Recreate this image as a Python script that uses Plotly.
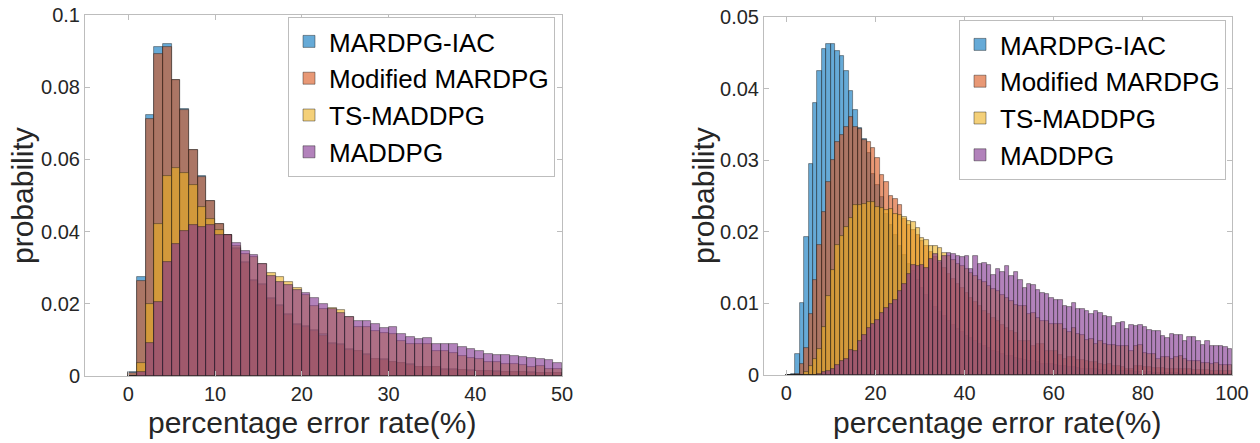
import plotly.graph_objects as go

# series names, drawn in this order (MATLAB default colour order)
names = ["MARDPG-IAC", "Modified MARDPG", "TS-MADDPG", "MADDPG"]
colors = ["rgba(0,114,189,0.6)", "rgba(217,83,25,0.6)",
          "rgba(237,177,32,0.6)", "rgba(126,47,142,0.6)"]

# ---- left panel: probability per 1% bin, bins 0..49 ----
left_edges = list(range(0, 50))
left_iac = [0.001, 0.0275, 0.0722, 0.091, 0.092, 0.082, 0.074, 0.0625, 0.0553, 0.0484,
            0.042, 0.039, 0.0354, 0.0315, 0.0266, 0.0255, 0.0215, 0.0197, 0.0171, 0.0144,
            0.0139, 0.0127, 0.0115, 0.0092, 0.0088, 0.0075, 0.007, 0.006, 0.0048, 0.0047,
            0.004, 0.0037, 0.0033, 0.0026, 0.0025, 0.0026, 0.0019, 0.0019, 0.0017, 0.0016,
            0.0014, 0.0014, 0.0013, 0.0012, 0.0011, 0.0011, 0.001, 0.0009, 0.0008, 0.0008]
left_mod = [0.0008, 0.0264, 0.0711, 0.0893, 0.0912, 0.082, 0.0738, 0.0625, 0.055, 0.0484,
            0.042, 0.039, 0.0352, 0.0312, 0.0264, 0.0252, 0.0212, 0.0194, 0.0168, 0.0142,
            0.0136, 0.0124, 0.0112, 0.009, 0.0085, 0.0073, 0.0068, 0.0058, 0.0046, 0.0045,
            0.0038, 0.0035, 0.0031, 0.0025, 0.0024, 0.0024, 0.0018, 0.0018, 0.0016, 0.0015,
            0.0013, 0.0013, 0.0012, 0.0011, 0.001, 0.001, 0.0009, 0.0009, 0.0007, 0.0007]
left_ts = [0.0, 0.0037, 0.020, 0.042, 0.0553, 0.0577, 0.0563, 0.053, 0.0467, 0.0435,
           0.0404, 0.039, 0.036, 0.0337, 0.0329, 0.0311, 0.0286, 0.0275, 0.026, 0.0243,
           0.0224, 0.0195, 0.0186, 0.0187, 0.0182, 0.0164, 0.0137, 0.0137, 0.0125, 0.0118,
           0.0115, 0.0098, 0.0088, 0.009, 0.0088, 0.007, 0.0068, 0.0063, 0.0056, 0.0049,
           0.0047, 0.004, 0.004, 0.0034, 0.0033, 0.003, 0.0025, 0.0027, 0.002, 0.0019]
left_madd = [0.0, 0.001, 0.0092, 0.0205, 0.0315, 0.0365, 0.0403, 0.0418, 0.0412, 0.0418,
             0.039, 0.039, 0.0368, 0.0345, 0.0334, 0.031, 0.0277, 0.0261, 0.0252, 0.0238,
             0.023, 0.0215, 0.02, 0.0186, 0.0175, 0.0164, 0.0151, 0.0152, 0.0143, 0.0132,
             0.0137, 0.0115, 0.0109, 0.0103, 0.0106, 0.0089, 0.009, 0.0088, 0.0081, 0.0074,
             0.007, 0.0061, 0.0057, 0.0057, 0.0055, 0.0054, 0.0049, 0.0046, 0.0044, 0.0035]

# ---- right panel: bins 0..99 ----
right_edges = list(range(0, 100))
right_iac = [0.0, 0.0002, 0.003, 0.010, 0.0193, 0.0295, 0.038, 0.0424, 0.0455, 0.0462,
             0.0462, 0.0452, 0.0446, 0.0425, 0.0397, 0.037, 0.0345, 0.0329, 0.031, 0.0281,
             0.0266, 0.0248, 0.0225, 0.021, 0.0195, 0.018, 0.0168, 0.0155, 0.0145, 0.0132,
             0.0122, 0.0112, 0.0103, 0.0095, 0.0088, 0.0082, 0.0075, 0.007, 0.0064, 0.006,
             0.0055, 0.0051, 0.0047, 0.0044, 0.004, 0.0038, 0.0034, 0.0032, 0.0029, 0.0027,
             0.0026, 0.0024, 0.0023, 0.0021, 0.002, 0.0019, 0.0018, 0.0016, 0.0015, 0.0015,
             0.0014, 0.0013, 0.0012, 0.0011, 0.0011, 0.001, 0.0009, 0.0009, 0.0008, 0.0008,
             0.0007, 0.0007, 0.0006, 0.0006, 0.0006, 0.0005, 0.0005, 0.0005, 0.0004, 0.0004,
             0.0004, 0.0004, 0.0003, 0.0003, 0.0003, 0.0003, 0.0003, 0.0003, 0.0002, 0.0002,
             0.0002, 0.0002, 0.0002, 0.0002, 0.0002, 0.0002, 0.0002, 0.0002, 0.0002, 0.0002]
right_mod = [0.0, 0.0, 0.0002, 0.0016, 0.0038, 0.0085, 0.0132, 0.0181, 0.0228, 0.027,
             0.030, 0.0325, 0.0335, 0.0347, 0.036, 0.0346, 0.0343, 0.0328, 0.0326, 0.0317,
             0.0303, 0.0279, 0.027, 0.025, 0.0246, 0.0238, 0.0218, 0.021, 0.0203, 0.0195,
             0.0187, 0.018, 0.0172, 0.0165, 0.0157, 0.0149, 0.0141, 0.0134, 0.0127, 0.0121,
             0.0114, 0.0108, 0.0102, 0.0096, 0.009, 0.0085, 0.008, 0.0075, 0.007, 0.0066,
             0.0062, 0.0058, 0.0048, 0.0048, 0.0047, 0.0041, 0.0043, 0.0044, 0.0033, 0.0034,
             0.0033, 0.0028, 0.0023, 0.0025, 0.0025, 0.0021, 0.0021, 0.002, 0.0018, 0.0018,
             0.0016, 0.0014, 0.0015, 0.0013, 0.0013, 0.0011, 0.0009, 0.0008, 0.0012, 0.0012,
             0.0011, 0.0011, 0.001, 0.001, 0.001, 0.0009, 0.0009, 0.0009, 0.0008, 0.0008,
             0.0008, 0.0007, 0.0007, 0.0007, 0.0007, 0.0006, 0.0006, 0.0006, 0.0006, 0.0005]
right_ts = [0.0, 0.0, 0.0, 0.0, 0.0004, 0.0012, 0.0023, 0.0036, 0.0067, 0.011,
            0.0146, 0.0181, 0.0194, 0.0207, 0.0219, 0.0237, 0.0237, 0.0239, 0.0241, 0.0241,
            0.0235, 0.0233, 0.023, 0.0232, 0.0225, 0.0224, 0.022, 0.0215, 0.0213, 0.0205,
            0.0191, 0.0189, 0.018, 0.018, 0.0177, 0.0171, 0.0166, 0.016, 0.0155, 0.0152,
            0.0148, 0.0142, 0.0138, 0.0133, 0.013, 0.0125, 0.012, 0.0117, 0.0112, 0.0108,
            0.0103, 0.0098, 0.0097, 0.0096, 0.0085, 0.0086, 0.0079, 0.0075, 0.0075, 0.0071,
            0.0071, 0.0071, 0.0064, 0.006, 0.0065, 0.0057, 0.0056, 0.0049, 0.005, 0.0043,
            0.0047, 0.0044, 0.0042, 0.0042, 0.0041, 0.0041, 0.0041, 0.0034, 0.0041, 0.0042,
            0.0031, 0.003, 0.003, 0.0023, 0.0025, 0.0025, 0.0022, 0.0025, 0.0027, 0.0022,
            0.0019, 0.002, 0.002, 0.0017, 0.0017, 0.0016, 0.0017, 0.0014, 0.0014, 0.0014]
right_madd = [0.0, 0.0, 0.0, 0.0, 0.0, 0.0, 0.0, 0.0002, 0.0004, 0.0006,
              0.0008, 0.0014, 0.0019, 0.0022, 0.0035, 0.0033, 0.0048, 0.0056, 0.0065, 0.0071,
              0.0077, 0.0086, 0.0093, 0.0099, 0.0105, 0.0118, 0.0127, 0.0141, 0.0154, 0.0152,
              0.0153, 0.015, 0.0162, 0.0169, 0.0159, 0.0166, 0.0171, 0.0169, 0.0166, 0.0165,
              0.0166, 0.0148, 0.0166, 0.0155, 0.0156, 0.0153, 0.0139, 0.0148, 0.0144, 0.0152,
              0.0138, 0.0144, 0.0133, 0.0121, 0.0127, 0.0126, 0.0119, 0.0114, 0.0113, 0.0107,
              0.0105, 0.0105, 0.0096, 0.0095, 0.01, 0.0092, 0.0092, 0.0089, 0.0085, 0.0089,
              0.0086, 0.0082, 0.0081, 0.0069, 0.0072, 0.0074, 0.0064, 0.007, 0.0069, 0.007,
              0.0067, 0.0063, 0.0062, 0.0062, 0.0055, 0.0051, 0.0057, 0.0056, 0.0056, 0.0047,
              0.0053, 0.0053, 0.0048, 0.0042, 0.0047, 0.0041, 0.004, 0.004, 0.0039, 0.0037]

left_series = [left_iac, left_mod, left_ts, left_madd]
right_series = [right_iac, right_mod, right_ts, right_madd]

FONT = "Liberation Sans, Arial, Helvetica, sans-serif"
W, H = 1260, 443
edge = dict(color="rgba(30,30,30,0.55)", width=0.8)

fig = go.Figure()

for name, col, vals in zip(names, colors, left_series):
    fig.add_trace(go.Bar(x=[e + 0.5 for e in left_edges], y=vals, width=1,
                         name=name, marker=dict(color=col, line=edge),
                         xaxis="x", yaxis="y", legend="legend"))

for name, col, vals in zip(names, colors, right_series):
    fig.add_trace(go.Bar(x=[e + 0.5 for e in right_edges], y=vals, width=1,
                         name=name, marker=dict(color=col, line=edge),
                         xaxis="x2", yaxis="y2", legend="legend2"))

axis_style = dict(showline=True, linecolor="#bdbdbd", linewidth=1, mirror="ticks",
                  ticks="inside", ticklen=5, tickcolor="#bdbdbd", showgrid=False,
                  zeroline=False, automargin=False,
                  tickfont=dict(family=FONT, size=20, color="#262626"))

legend_style = dict(bgcolor="white", bordercolor="#bdbdbd", borderwidth=1,
                    font=dict(family=FONT, size=26, color="black"),
                    xref="container", yref="container",
                    xanchor="left", yanchor="top", tracegroupgap=0)

# axis titles as annotations so they sit exactly where the reference has them
title_font = dict(family=FONT, size=30, color="#262626")
titles = [
    dict(text="percentage error rate(%)", x=312 / W, y=1 - 422 / H, textangle=0),
    dict(text="percentage error rate(%)", x=997 / W, y=1 - 422 / H, textangle=0),
    dict(text="probability", x=22 / W, y=1 - 196 / H, textangle=-90),
    dict(text="probability", x=703 / W, y=1 - 196 / H, textangle=-90),
]
annotations = [dict(xref="paper", yref="paper", xanchor="center", yanchor="middle",
                    showarrow=False, font=title_font, **t) for t in titles]

fig.update_layout(
    width=W, height=H,
    margin=dict(l=0, r=0, t=0, b=0, autoexpand=False),
    paper_bgcolor="white", plot_bgcolor="white",
    barmode="overlay", bargap=0,
    xaxis=dict(domain=[85 / W, 562 / W], range=[-5, 50], anchor="y",
               tickvals=[0, 10, 20, 30, 40, 50], **axis_style),
    yaxis=dict(domain=[1 - 376 / H, 1 - 15 / H], range=[0, 0.1], anchor="x",
               tickvals=[0, 0.02, 0.04, 0.06, 0.08, 0.1],
               ticktext=["0", "0.02", "0.04", "0.06", "0.08", "0.1"], **axis_style),
    xaxis2=dict(domain=[764 / W, 1232 / W], range=[-5, 100], anchor="y2",
                tickvals=[0, 20, 40, 60, 80, 100], **axis_style),
    yaxis2=dict(domain=[1 - 375 / H, 1 - 17 / H], range=[0, 0.05], anchor="x2",
                tickvals=[0, 0.01, 0.02, 0.03, 0.04, 0.05],
                ticktext=["0", "0.01", "0.02", "0.03", "0.04", "0.05"], **axis_style),
    legend=dict(x=288 / W, y=1 - 17 / H, **legend_style),
    legend2=dict(x=959 / W, y=1 - 20 / H, **legend_style),
    annotations=annotations,
)

# the page body has a default 8px margin; remove it so the figure fills the window
fig.write_html("out.html", config={"displayModeBar": False},
               post_script="document.body.style.margin='0';")
